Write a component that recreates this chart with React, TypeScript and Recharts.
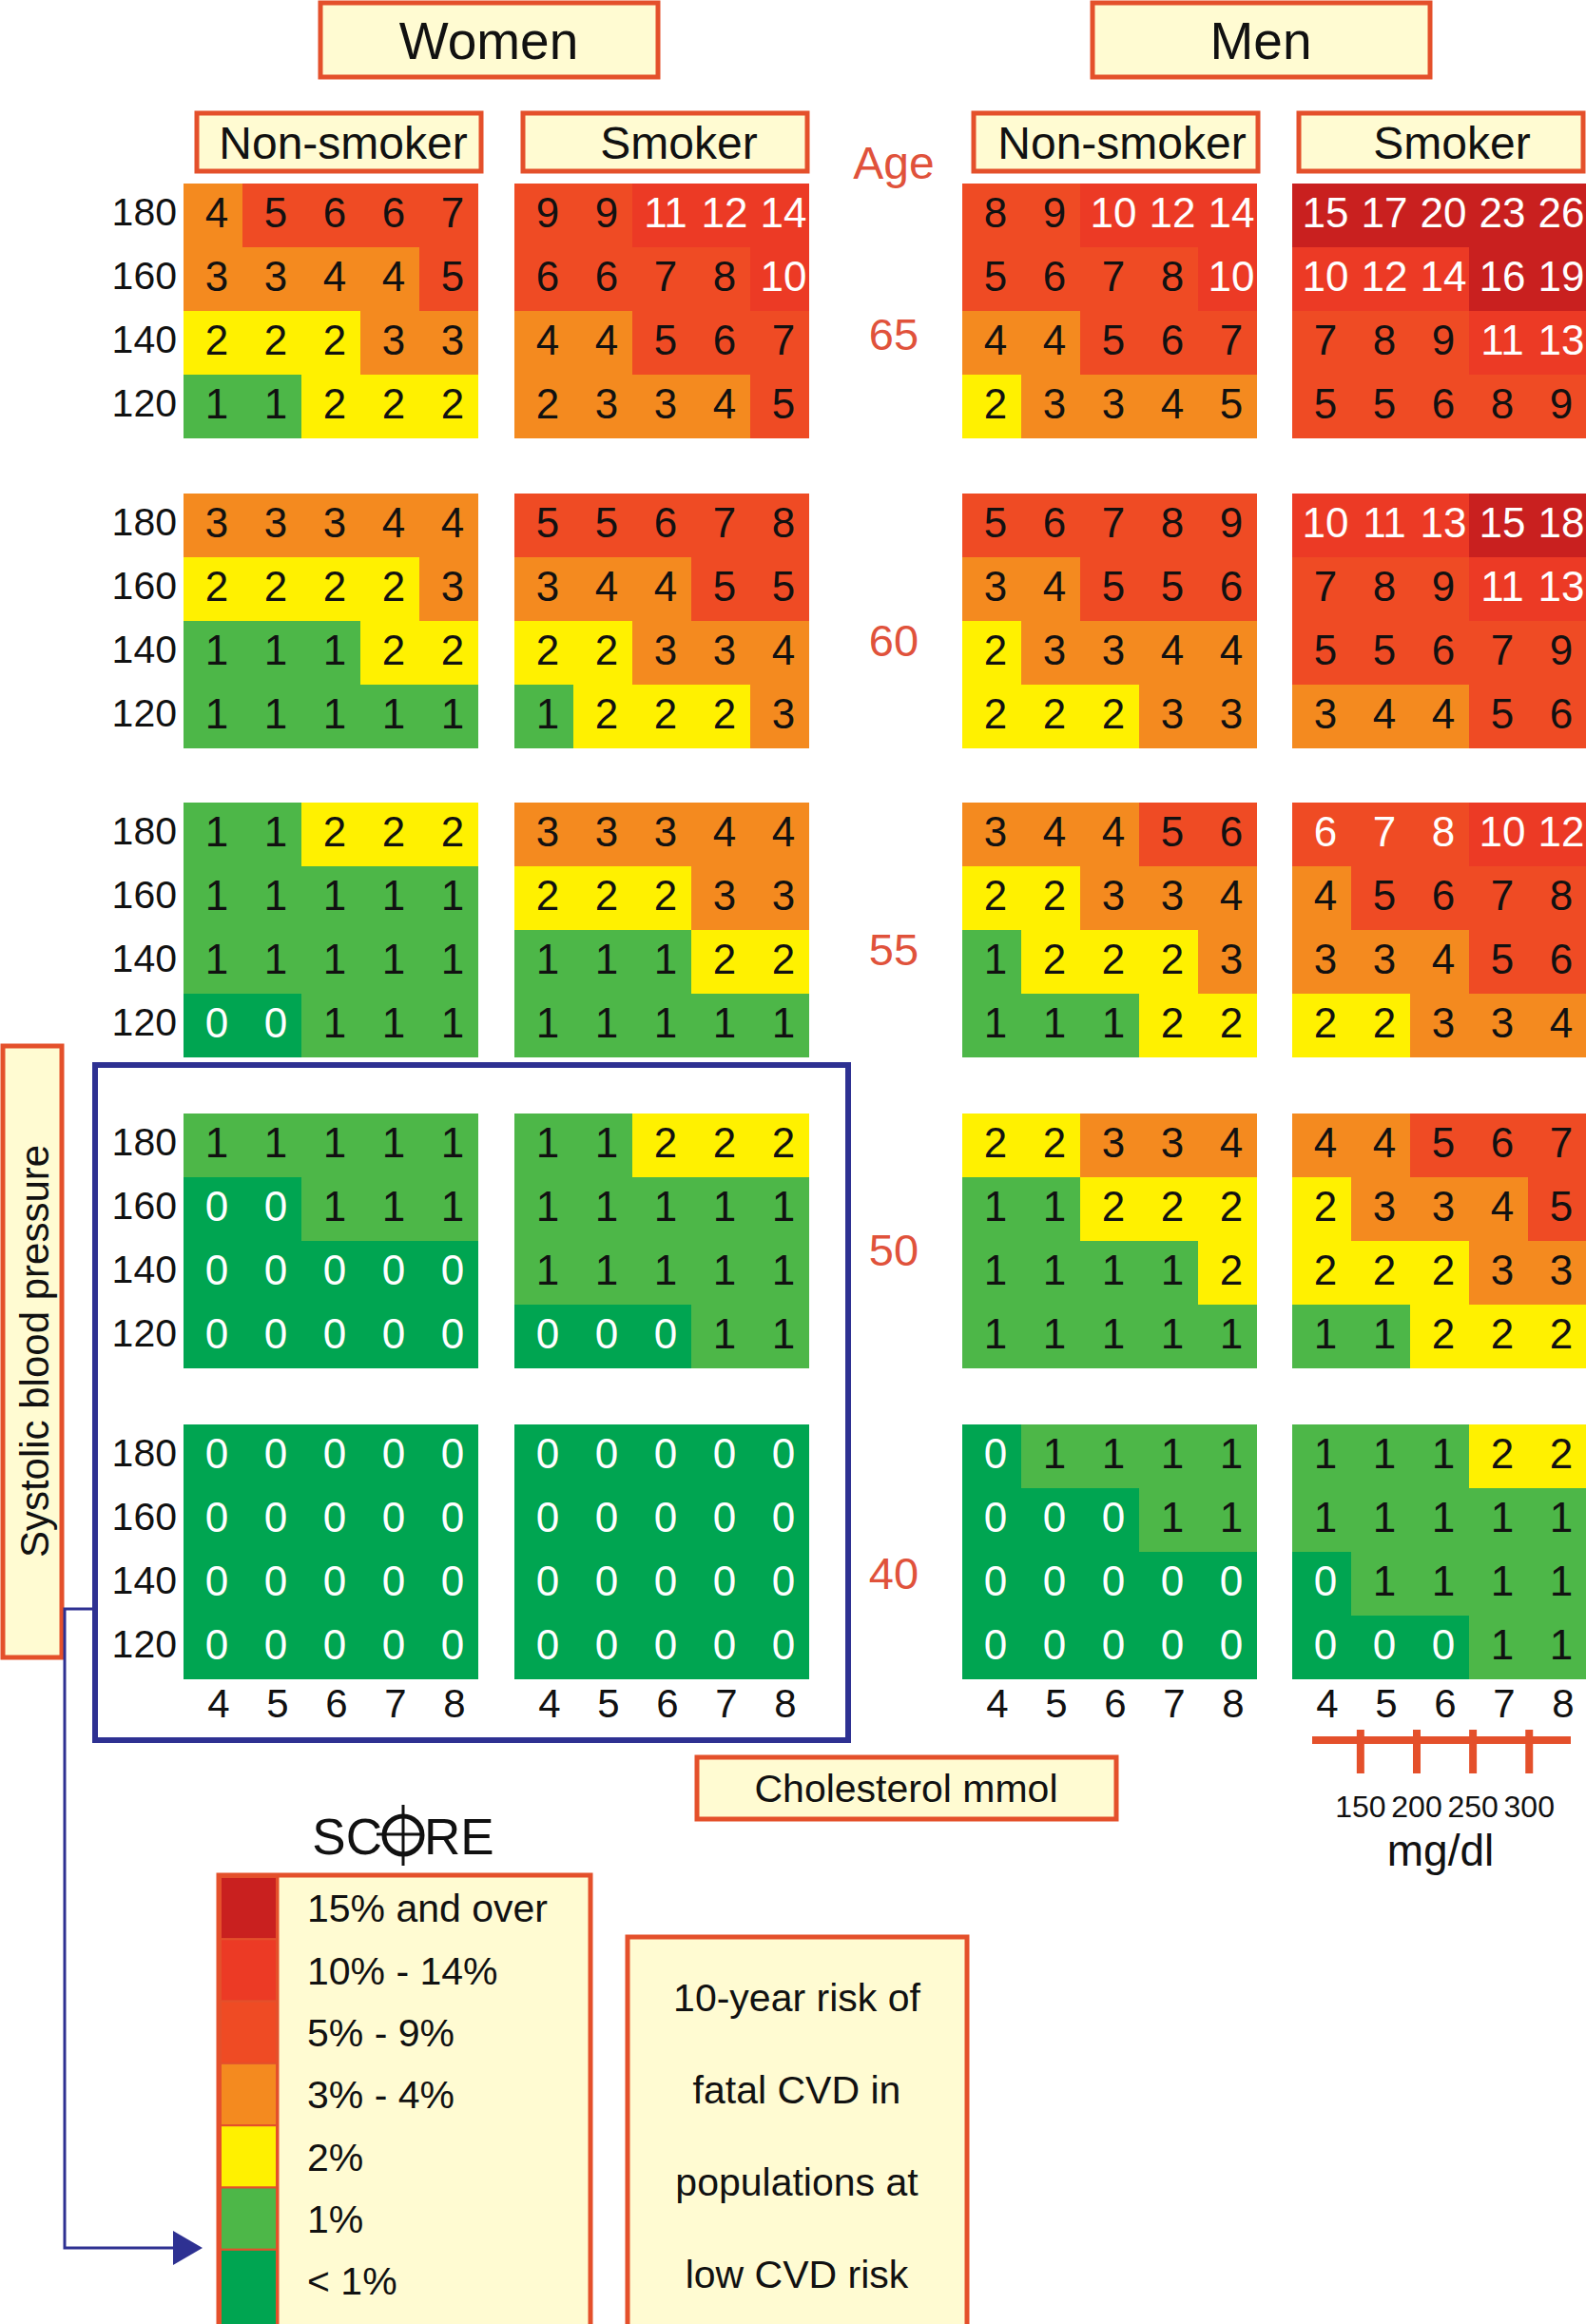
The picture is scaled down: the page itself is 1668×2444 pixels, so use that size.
import React from 'react';
import { ScatterChart, Scatter, XAxis, YAxis } from 'recharts';

// axes of every panel
const cholesterol = [4, 5, 6, 7, 8];
const systolic = [180, 160, 140, 120];
const ages = [65, 60, 55, 50, 40];
const mgdlTicks = [150, 200, 250, 300];

// risk[age][systolic row][cholesterol column]
const womenNonSmoker = [
  [[4, 5, 6, 6, 7], [3, 3, 4, 4, 5], [2, 2, 2, 3, 3], [1, 1, 2, 2, 2]],
  [[3, 3, 3, 4, 4], [2, 2, 2, 2, 3], [1, 1, 1, 2, 2], [1, 1, 1, 1, 1]],
  [[1, 1, 2, 2, 2], [1, 1, 1, 1, 1], [1, 1, 1, 1, 1], [0, 0, 1, 1, 1]],
  [[1, 1, 1, 1, 1], [0, 0, 1, 1, 1], [0, 0, 0, 0, 0], [0, 0, 0, 0, 0]],
  [[0, 0, 0, 0, 0], [0, 0, 0, 0, 0], [0, 0, 0, 0, 0], [0, 0, 0, 0, 0]],
];
const womenSmoker = [
  [[9, 9, 11, 12, 14], [6, 6, 7, 8, 10], [4, 4, 5, 6, 7], [2, 3, 3, 4, 5]],
  [[5, 5, 6, 7, 8], [3, 4, 4, 5, 5], [2, 2, 3, 3, 4], [1, 2, 2, 2, 3]],
  [[3, 3, 3, 4, 4], [2, 2, 2, 3, 3], [1, 1, 1, 2, 2], [1, 1, 1, 1, 1]],
  [[1, 1, 2, 2, 2], [1, 1, 1, 1, 1], [1, 1, 1, 1, 1], [0, 0, 0, 1, 1]],
  [[0, 0, 0, 0, 0], [0, 0, 0, 0, 0], [0, 0, 0, 0, 0], [0, 0, 0, 0, 0]],
];
const menNonSmoker = [
  [[8, 9, 10, 12, 14], [5, 6, 7, 8, 10], [4, 4, 5, 6, 7], [2, 3, 3, 4, 5]],
  [[5, 6, 7, 8, 9], [3, 4, 5, 5, 6], [2, 3, 3, 4, 4], [2, 2, 2, 3, 3]],
  [[3, 4, 4, 5, 6], [2, 2, 3, 3, 4], [1, 2, 2, 2, 3], [1, 1, 1, 2, 2]],
  [[2, 2, 3, 3, 4], [1, 1, 2, 2, 2], [1, 1, 1, 1, 2], [1, 1, 1, 1, 1]],
  [[0, 1, 1, 1, 1], [0, 0, 0, 1, 1], [0, 0, 0, 0, 0], [0, 0, 0, 0, 0]],
];
const menSmoker = [
  [[15, 17, 20, 23, 26], [10, 12, 14, 16, 19], [7, 8, 9, 11, 13], [5, 5, 6, 8, 9]],
  [[10, 11, 13, 15, 18], [7, 8, 9, 11, 13], [5, 5, 6, 7, 9], [3, 4, 4, 5, 6]],
  [[6, 7, 8, 10, 12], [4, 5, 6, 7, 8], [3, 3, 4, 5, 6], [2, 2, 3, 3, 4]],
  [[4, 4, 5, 6, 7], [2, 3, 3, 4, 5], [2, 2, 2, 3, 3], [1, 1, 2, 2, 2]],
  [[1, 1, 1, 2, 2], [1, 1, 1, 1, 1], [0, 1, 1, 1, 1], [0, 0, 0, 1, 1]],
];

// cells whose printed (rounded) value sits in a different colour band: [panel, age, sbp, chol]
const orangeBandCells = [
  ['womenSmoker', 65, 120, 4],
  ['menNonSmoker', 65, 120, 8],
];
// cells printed in white although below 10
const whiteTextCells = [
  ['menSmoker', 55, 180, 4],
  ['menSmoker', 55, 180, 5],
  ['menSmoker', 55, 180, 6],
];

const legendLabels = ['15% and over', '10% - 14%', '5% - 9%', '3% - 4%', '2%', '1%', '< 1%'];
const legendColors = ['#C9201F', '#EC3A25', '#EF4B24', '#F48A1F', '#FFF100', '#4DB748', '#00A551'];
const noteLines = ['10-year risk of', 'fatal CVD in', 'populations at', 'low CVD risk'];

const FONT = '"Liberation Sans", Arial, Helvetica, sans-serif';
const BORDER = '#E4502B';
const CREAM = '#FFFBD2';
const NAVY = '#2E3192';
const AGE_RED = '#E0523B';

const PANEL_LEFT = [193, 541, 1012, 1359];
const BLOCK_TOP = [193, 519, 844, 1171, 1498];
const AGE_LABEL_Y = [351, 673, 998, 1314, 1654];
const PANEL_W = 310;
const BLOCK_H = 268;
const CELL_W = PANEL_W / 5;
const CELL_H = BLOCK_H / 4;
const Y_AXIS_W = 80;
const X_AXIS_H = 60;

const bandOf = (v: number) =>
  v >= 15 ? 0 : v >= 10 ? 1 : v >= 5 ? 2 : v >= 3 ? 3 : v === 2 ? 4 : v === 1 ? 5 : 6;

const hasCell = (list: (string | number)[][], key: string, age: number, sbp: number, chol: number) =>
  list.some((c) => c[0] === key && c[1] === age && c[2] === sbp && c[3] === chol);

const CellShape = (props: any) => {
  const { cx, cy, payload } = props;
  const v = payload.risk;
  return (
    <g>
      <rect
        x={cx - CELL_W / 2}
        y={cy - CELL_H / 2}
        width={CELL_W}
        height={CELL_H}
        fill={legendColors[payload.band]}
        shapeRendering="crispEdges"
      />
      <text
        x={cx + 4}
        y={cy - 3}
        dy="0.36em"
        textAnchor="middle"
        fontSize={44}
        fill={payload.white ? '#ffffff' : '#111111'}
      >
        {v}
      </text>
    </g>
  );
};

const MgTickMark = (props: any) => {
  const { cx, cy } = props;
  return <line x1={cx} x2={cx} y1={cy - 11} y2={cy + 35} stroke={BORDER} strokeWidth={8} />;
};

function Panel({ name, values, age, left, top, showY, showX }: {
  name: string; values: number[][]; age: number; left: number; top: number; showY: boolean; showX: boolean;
}) {
  const data = values.flatMap((row, r) =>
    row.map((risk, c) => {
      const sbp = systolic[r];
      const chol = cholesterol[c];
      const band = hasCell(orangeBandCells, name, age, sbp, chol) ? 3 : bandOf(risk);
      const white = risk === 0 || risk >= 10 || hasCell(whiteTextCells, name, age, sbp, chol);
      return { chol, sbp, risk, band, white };
    })
  );
  const width = PANEL_W + (showY ? Y_AXIS_W : 0);
  const height = BLOCK_H + (showX ? X_AXIS_H : 0);
  return (
    <div style={{ position: 'absolute', left: left - (showY ? Y_AXIS_W : 0), top }}>
      <ScatterChart width={width} height={height} margin={{ top: 0, right: 0, bottom: 0, left: 0 }}>
        <XAxis
          type="number"
          dataKey="chol"
          domain={[3.5, 8.5]}
          ticks={cholesterol}
          interval={0}
          hide={!showX}
          height={X_AXIS_H}
          axisLine={false}
          tickLine={false}
          tickSize={0}
          tickMargin={10}
          tick={{ fontSize: 42, fill: '#111', dx: 6 }}
        />
        <YAxis
          type="number"
          dataKey="sbp"
          domain={[110, 190]}
          ticks={systolic}
          interval={0}
          hide={!showY}
          width={Y_AXIS_W}
          axisLine={false}
          tickLine={false}
          tickSize={0}
          tickMargin={7}
          tick={{ fontSize: 41, fill: '#111', dy: -4 }}
        />
        <Scatter data={data} shape={CellShape} isAnimationActive={false} />
      </ScatterChart>
    </div>
  );
}

const groups: [string, number[][][]][] = [
  ['womenNonSmoker', womenNonSmoker],
  ['womenSmoker', womenSmoker],
  ['menNonSmoker', menNonSmoker],
  ['menSmoker', menSmoker],
];

export default function App() {
  const legendTop = 1974;
  const legendRow = 65.3;
  return (
    <div style={{ position: 'relative', width: 1668, height: 2444, overflow: 'hidden', background: '#fff', fontFamily: FONT }}>
      <style>{'body{margin:0}'}</style>
      <svg width={1668} height={2444} style={{ position: 'absolute', left: 0, top: 0 }} fontFamily={FONT}>
        {/* headers */}
        <rect x={337} y={3} width={355} height={78} fill={CREAM} stroke={BORDER} strokeWidth={5} />
        <text x={514} y={42} dy="0.36em" textAnchor="middle" fontSize={55} fill="#111">Women</text>
        <rect x={1149} y={3} width={355} height={78} fill={CREAM} stroke={BORDER} strokeWidth={5} />
        <text x={1326} y={42} dy="0.36em" textAnchor="middle" fontSize={55} fill="#111">Men</text>
        {[
          { x: 207, t: 'Non-smoker', c: 361 },
          { x: 550, t: 'Smoker', c: 714 },
          { x: 1024, t: 'Non-smoker', c: 1180 },
          { x: 1366, t: 'Smoker', c: 1527 },
        ].map((b) => (
          <g key={b.x}>
            <rect x={b.x} y={119} width={299} height={61} fill={CREAM} stroke={BORDER} strokeWidth={5} />
            <text x={b.c} y={150} dy="0.36em" textAnchor="middle" fontSize={48} fill="#111">{b.t}</text>
          </g>
        ))}
        <text x={940} y={171} dy="0.36em" textAnchor="middle" fontSize={48} fill={AGE_RED}>Age</text>
        {ages.map((a, i) => (
          <text key={a} x={940} y={AGE_LABEL_Y[i]} dy="0.36em" textAnchor="middle" fontSize={47} fill={AGE_RED}>{a}</text>
        ))}

        {/* systolic label, low-risk frame and arrow */}
        <rect x={3} y={1100} width={62} height={643} fill={CREAM} stroke={BORDER} strokeWidth={5} />
        <text transform="translate(36,1421) rotate(-90)" dy="0.36em" textAnchor="middle" fontSize={42} fill="#111">Systolic blood pressure</text>
        <rect x={100} y={1120} width={792} height={710} fill="none" stroke={NAVY} strokeWidth={6} />
        <polyline points="98,1692 68,1692 68,2364 184,2364" fill="none" stroke={NAVY} strokeWidth={3} />
        <polygon points="182,2346 213,2364 182,2382" fill={NAVY} />

        {/* cholesterol labels */}
        <rect x={733} y={1848} width={441} height={65} fill={CREAM} stroke={BORDER} strokeWidth={5} />
        <text x={953} y={1880} dy="0.36em" textAnchor="middle" fontSize={41} fill="#111">Cholesterol mmol</text>
        <text x={1515} y={1945} dy="0.36em" textAnchor="middle" fontSize={46} fill="#111">mg/dl</text>

        {/* SCORE title */}
        <text x={402} y={1950} textAnchor="end" fontSize={53} fill="#111">SC</text>
        <circle cx={424} cy={1930} r={20} fill="none" stroke="#111" strokeWidth={5} />
        <line x1={424} x2={424} y1={1898} y2={1962} stroke="#111" strokeWidth={3} />
        <line x1={396} x2={446} y1={1929} y2={1929} stroke="#111" strokeWidth={3} />
        <text x={446} y={1950} fontSize={53} fill="#111">RE</text>

        {/* legend */}
        <rect x={230} y={1972} width={391} height={490} fill={CREAM} stroke={BORDER} strokeWidth={5} />
        {legendLabels.map((label, i) => {
          const y = legendTop + i * legendRow;
          const h = i === legendLabels.length - 1 ? 2460 - y : legendRow;
          return (
            <g key={label}>
              <rect x={232} y={y} width={59} height={h} fill={legendColors[i]} stroke={BORDER} strokeWidth={2} />
              <text x={323} y={y + legendRow / 2} dy="0.36em" fontSize={41} fill="#111">{label}</text>
            </g>
          );
        })}
        <line x1={292} x2={292} y1={1972} y2={2444} stroke={BORDER} strokeWidth={3} />

        {/* note */}
        <rect x={660} y={2037} width={357} height={430} fill={CREAM} stroke={BORDER} strokeWidth={5} />
        {noteLines.map((line, i) => (
          <text key={line} x={838} y={2100 + i * 97.2} dy="0.36em" textAnchor="middle" fontSize={41} fill="#111">{line}</text>
        ))}
      </svg>

      {groups.map(([name, g], p) =>
        g.map((block, a) => (
          <Panel
            key={`${p}-${a}`}
            name={name}
            values={block}
            age={ages[a]}
            left={PANEL_LEFT[p]}
            top={BLOCK_TOP[a]}
            showY={p === 0}
            showX={a === ages.length - 1}
          />
        ))
      )}

      {/* mg/dl conversion scale */}
      <div style={{ position: 'absolute', left: 1380, top: 1810 }}>
        <ScatterChart width={272} height={150} margin={{ top: 0, right: 0, bottom: 0, left: 0 }}>
          <XAxis
            type="number"
            dataKey="mg"
            domain={[107, 337]}
            ticks={mgdlTicks}
            interval={0}
            height={130}
            axisLine={{ stroke: BORDER, strokeWidth: 8 }}
            tickLine={false}
            tickSize={0}
            tickMargin={58}
            tick={{ fontSize: 32, fill: '#111' }}
          />
          <YAxis type="number" dataKey="y" domain={[0, 1]} hide />
          <Scatter data={mgdlTicks.map((mg) => ({ mg, y: 0 }))} shape={MgTickMark} isAnimationActive={false} />
        </ScatterChart>
      </div>
    </div>
  );
}
